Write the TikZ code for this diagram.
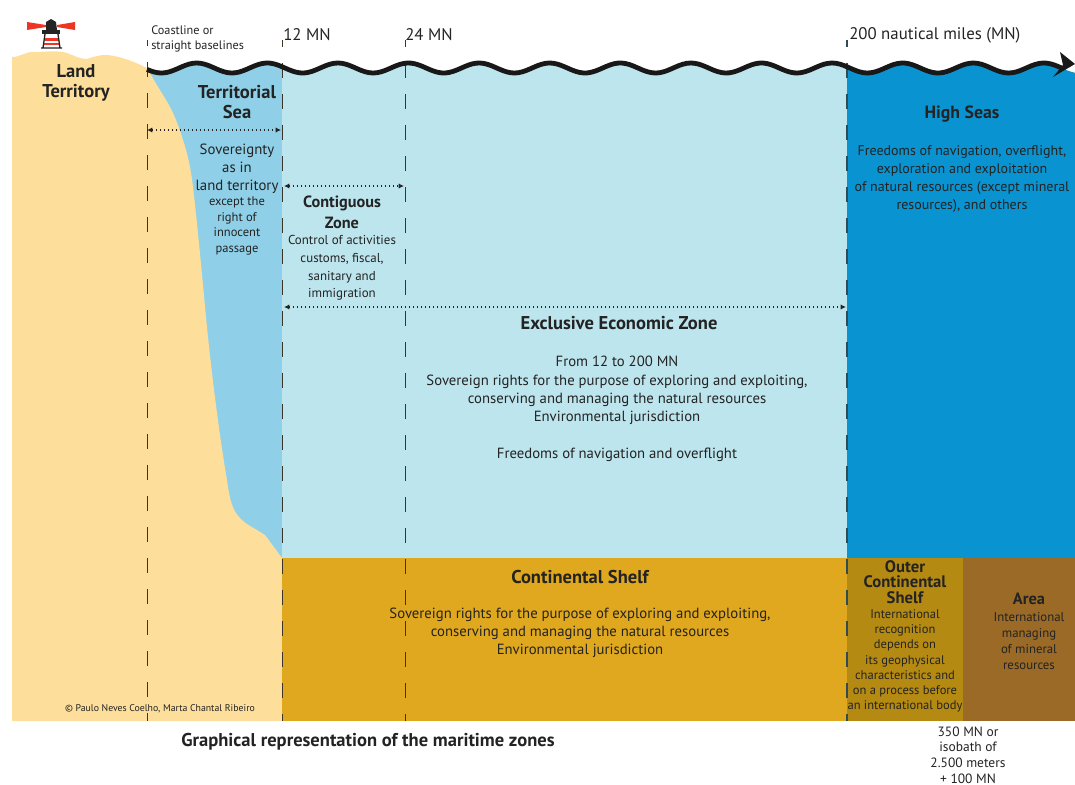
\documentclass[tikz,border=0pt]{standalone}
\usepackage{fontspec}
\setmainfont{PT Sans}
\usetikzlibrary{arrows.meta}
\definecolor{land}{HTML}{FDDF9B}
\definecolor{terr}{HTML}{8FD0E8}
\definecolor{eez}{HTML}{BDE5EE}
\definecolor{high}{HTML}{0A93D1}
\definecolor{shelf}{HTML}{E0A81E}
\definecolor{outer}{HTML}{B58A12}
\definecolor{areac}{HTML}{9A6A26}
\definecolor{ink}{HTML}{232323}
\definecolor{dashc}{HTML}{3D3428}
\definecolor{beam}{HTML}{EE3524}
\tikzset{
  lbl/.style={align=center,text=ink,inner sep=0pt},
  h15/.style={lbl,font=\bfseries\fontsize{13.9}{15.6}\selectfont},
  b13/.style={lbl,font=\fontsize{11.05}{13.6}\selectfont},
  top/.style={lbl,anchor=west,font=\fontsize{12.6}{14}\selectfont},
  zoneline/.style={draw=dashc,line width=0.7pt,dash pattern=on 11.25pt off 12pt},
  span/.style={draw=ink,line width=1pt,dotted,{Latex[length=4pt,width=4pt,fill=ink]}-{Latex[length=4pt,width=4pt,fill=ink]}},
}
\begin{document}
\begin{tikzpicture}[x=0.75pt,y=-0.75pt]
\useasboundingbox (0,0) rectangle (1075,785);
% water
\begin{scope}
\clip plot[domain=147:1075,samples=240,smooth] (\x,{68+5*cos((\x-232)/70.6*360)}) -- (1075,558) -- (147,558) -- cycle;
\fill[eez] (282,50) rectangle (847,558);
\fill[high] (847,50) rectangle (1075,558);
\fill[terr] (147,50) rectangle (282,558);
\end{scope}
% land
\fill[land] (12,57) .. controls (20,57) and (25,52) .. (33,52) .. controls (45,52) and (58,50) .. (67,53)
  .. controls (75,56) and (80,59) .. (87,59) .. controls (95,56) and (100,55) .. (107,55)
  .. controls (120,56) and (135,62) .. (147,68) -- (150,73)
  .. controls (158,88) and (167,100) .. (173,113)
  .. controls (177,122) and (180,130) .. (183,140)
  .. controls (188,155) and (191,170) .. (193,187)
  .. controls (198,230) and (202,275) .. (206,317)
  .. controls (211,370) and (220,440) .. (227,480)
  .. controls (229,495) and (231,505) .. (236,513)
  .. controls (242,522) and (250,526) .. (257,530)
  -- (265,535) -- (282,558) -- (282,721) -- (12,721) -- cycle;
% bottom
\fill[shelf] (282,558) rectangle (847,721);
\fill[outer] (847,558) rectangle (963,721);
\fill[areac] (963,558) rectangle (1075,721);
% zone lines
\coordinate (c0) at (147,40); \coordinate (c1) at (147,721);
\coordinate (m12a) at (282,40); \coordinate (m12b) at (282,721);
\coordinate (m24a) at (405,40); \coordinate (m24b) at (405,721);
\coordinate (m200a) at (847,40); \coordinate (m200b) at (847,721);
\draw[zoneline,dash phase=6.5pt] (c0) -- (c1);
\draw[zoneline,dash phase=6pt] (m12a) -- (m12b);
\draw[zoneline,dash phase=6pt] (m24a) -- (m24b);
\draw[zoneline,dash phase=6pt,draw=dashc!75!high,line width=1pt] (m200a) -- (m200b);
% wave
\draw[line width=3.6pt,color=ink!70!black] plot[domain=147:1062,samples=240,smooth] (\x,{68+5*cos((\x-232)/70.6*360)});
\fill[ink!70!black] (1075,64) -- (1060,52) -- (1063,65) -- (1053,77) -- cycle;
% spans
\coordinate (a1) at (147,130); \coordinate (a2) at (281,130);
\coordinate (b1) at (284,186); \coordinate (b2) at (404,186);
\coordinate (d1) at (284,307); \coordinate (d2) at (846,307);
\draw[span] (a1) -- (a2);
\draw[span] (b1) -- (b2);
\draw[span] (d1) -- (d2);
% lighthouse
\fill[beam] (27,22) -- (46,25) -- (46,27) -- (27,30) -- cycle;
\fill[beam] (75,22) -- (57,25) -- (57,27) -- (75,30) -- cycle;
\fill[ink] (51,19) -- (56,22) -- (57,30) -- (46,30) -- (46,22) -- cycle;
\fill[ink] (42,30) rectangle (60,34);
\fill[white] (45,34) rectangle (59,47);
\fill[beam] (45,38) rectangle (59,41);
\fill[beam] (44,43) rectangle (60,45);
\draw[ink,line width=1pt] (45,34) -- (43,48) (58,34) -- (60,48) (41,48) -- (62,48);
% texts
\node[h15] (landt) at (76,83) {Land\\Territory};
\node[lbl,anchor=west,font=\fontsize{9.2}{11.5}\selectfont,align=left] (coast) at (151,39) {Coastline or\\straight baselines};
\node[top] (t12) at (283,35) {12 MN};
\node[top] (t24) at (405,35) {24 MN};
\node[top] (t200) at (849,35) {200 nautical miles (MN)};
\node[h15] (tsea) at (237,102) {Territorial\\Sea};
\node[b13,font=\fontsize{11.1}{13.4}\selectfont] (sov) at (237,169) {Sovereignty\\as in\\land territory};
\node[lbl,font=\fontsize{9.4}{11.7}\selectfont] (exc) at (237,226) {except the\\right of\\innocent\\passage};
\node[lbl,font=\bfseries\fontsize{12.2}{15.6}\selectfont] (cz) at (342,212) {Contiguous\\Zone};
\node[lbl,font=\fontsize{9.7}{13.2}\selectfont] (czt) at (342,268) {Control of activities\\customs, fiscal,\\sanitary and\\immigration};
\node[lbl,font=\bfseries\fontsize{13.9}{15}\selectfont] (ee) at (619,323) {Exclusive Economic Zone};
\node[b13] (eet) at (617,390.5) {From 12 to 200 MN\\Sovereign rights for the purpose of exploring and exploiting,\\conserving and managing the natural resources\\Environmental jurisdiction};
\node[b13] (fr) at (617,455) {Freedoms of navigation and overflight};
\node[h15,font=\bfseries\fontsize{13.3}{15}\selectfont] (hs) at (962,114) {High Seas};
\node[lbl,font=\fontsize{10.5}{13.6}\selectfont] (hst) at (962,179) {Freedoms of navigation, overflight,\\exploration and exploitation\\of natural resources (except mineral\\resources), and others};
\node[h15] (cs) at (580,577) {Continental Shelf};
\node[b13] (cst) at (580,633) {Sovereign rights for the purpose of exploring and exploiting,\\conserving and managing the natural resources\\Environmental jurisdiction};
\node[lbl,font=\bfseries\fontsize{12.5}{11.6}\selectfont] (ocs) at (905,582) {Outer\\Continental\\Shelf};
\node[lbl,font=\fontsize{9.4}{11.4}\selectfont] (ocst) at (905,661) {International\\recognition\\depends on\\its geophysical\\characteristics and\\on a process before\\an international body};
\node[lbl,font=\bfseries\fontsize{12.3}{12}\selectfont] (ar) at (1029,599) {Area};
\node[lbl,font=\fontsize{9.6}{12.2}\selectfont] (art) at (1029,641) {International\\managing\\of mineral\\resources};
\node[lbl,font=\fontsize{10.1}{11.8}\selectfont] (iso) at (968,755) {350 MN or\\isobath of\\2.500 meters\\+ 100 MN};
\node[lbl,font=\fontsize{7.35}{8}\selectfont] (copy) at (160,709) {© Paulo Neves Coelho, Marta Chantal Ribeiro};
\node[lbl,font=\bfseries\fontsize{13.9}{14}\selectfont] (gr) at (368,742) {Graphical representation of the maritime zones};
\end{tikzpicture}
\end{document}
